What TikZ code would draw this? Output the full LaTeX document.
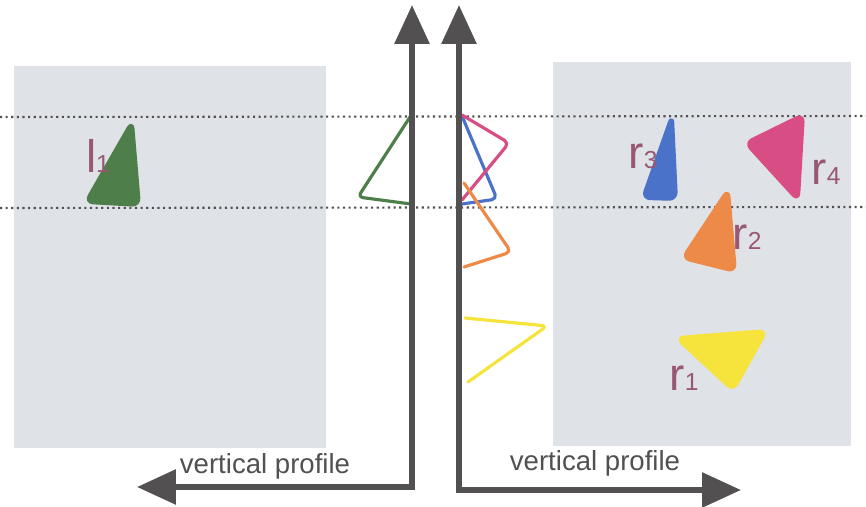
\documentclass[tikz,border=0pt]{standalone}
\usepackage{fontspec}
\setmainfont{Liberation Sans}
\usepackage{tikz}
\usetikzlibrary{arrows.meta}
\definecolor{panelgray}{HTML}{DFE2E7}
\definecolor{axisgray}{HTML}{525050}
\definecolor{labmauve}{HTML}{985773}
\definecolor{pgreen}{HTML}{4E7F4A}
\definecolor{pblue}{HTML}{4A72C8}
\definecolor{ppink}{HTML}{D94D85}
\definecolor{porange}{HTML}{EE8A48}
\definecolor{pyellow}{HTML}{F6E43C}
\tikzset{
	panel/.style={fill=panelgray,draw=none},
	scanline/.style={axisgray,dotted,line width=1.2pt},
	profaxis/.style={axisgray,line width=3.4pt,line join=miter,
		{Triangle[length=0.78cm,width=0.68cm]}-{Triangle[length=0.78cm,width=0.68cm]}},
	blob/.style={fill=#1,draw=#1,line width=2.2pt,rounded corners=4pt,line join=round},
	outline/.style={draw=#1,line width=1.8pt,rounded corners=3pt,line join=round,line cap=round},
	plab/.style={text=labmauve,font=\fontsize{26}{30}\selectfont,inner sep=0pt},
	axlab/.style={text=axisgray,font=\fontsize{15.7}{18}\selectfont,inner sep=0pt}
}
\newcommand{\sub}[1]{{\fontsize{14}{16}\selectfont #1}}
\begin{document}
\begin{tikzpicture}[x=0.02cm,y=-0.02cm]
	\useasboundingbox (0,0) rectangle (866,507);
	\fill[white] (0,0) rectangle (866,507);
	\draw[panel] (14,66) rectangle (326,448);
	\draw[panel] (553,62) rectangle (851,446);
	\draw[scanline] (0,117) -- (866,116);
	\draw[scanline] (0,208) -- (866,207);
	\draw[blob=pgreen] (132,122) -- (139,205) -- (86,202) -- cycle;
	\draw[blob=pblue] (672,116) -- (676,199) -- (643,198) -- cycle;
	\draw[blob=ppink] (803,115) -- (798,200) -- (746,143) -- cycle;
	\draw[blob=porange] (728,190) -- (735,271) -- (683,258) -- cycle;
	\draw[blob=pyellow] (766,331) -- (733,390) -- (677,338) -- cycle;
	\node[plab] (l1) at (98,156) {l\sub{1}};
	\node[plab] (r3) at (643,156) {r\sub{3}};
	\node[plab] (r4) at (826,172) {r\sub{4}};
	\node[plab] (r2) at (747,237) {r\sub{2}};
	\node[plab] (r1) at (684,378) {r\sub{1}};
	\draw[outline=pgreen] (410,117) -- (358,197) -- (411,204);
	\draw[outline=pblue] (462,116) -- (497,199) -- (462,204);
	\draw[outline=ppink] (462,115) -- (509,143) -- (462,200);
	\draw[outline=porange] (464,183) -- (511,252) -- (464,267);
	\draw[outline=pyellow] (465,318) -- (547,326) -- (468,382);
	\coordinate (ltop) at (412,5);
	\coordinate (lo) at (412,487);
	\coordinate (lend) at (137,487);
	\coordinate (rtop) at (459,5);
	\coordinate (ro) at (459,490);
	\coordinate (rend) at (741,490);
	\draw[profaxis] (ltop) -- (lo) -- (lend);
	\draw[profaxis] (rtop) -- (ro) -- (rend);
	\node[axlab] (lprof) at (265,466) {vertical profile};
	\node[axlab] (rprof) at (595,463) {vertical profile};
\end{tikzpicture}
\end{document}
